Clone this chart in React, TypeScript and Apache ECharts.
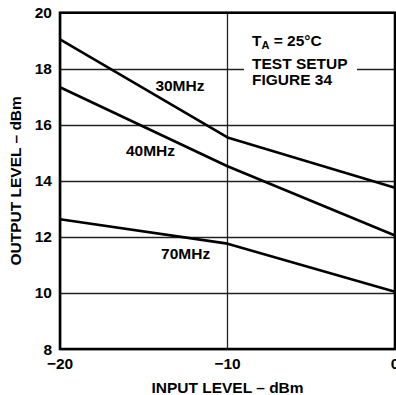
import React, { useEffect, useRef } from "react";
import * as echarts from "echarts";

const inputLevels = [-20, -10, 0];
const out30MHz = [19.05, 15.55, 13.75];
const out40MHz = [17.34, 14.52, 12.05];
const out70MHz = [12.63, 11.76, 10.04];
const seriesNames = ["30MHz", "40MHz", "70MHz"];
const labelCoords: [number, number][] = [
  [-12.84, 17.42],
  [-14.6, 15.1],
  [-12.5, 11.42],
];
const noteLines = ["TEST SETUP", "FIGURE 34"];

const FONT = '"Liberation Sans", Arial, Helvetica, sans-serif';
const FS = 15.5;

export default function App() {
  const ref = useRef<HTMLDivElement>(null);
  useEffect(() => {
    if (!ref.current) return;
    const chart = echarts.init(ref.current, undefined, { renderer: "svg" });
    const mk = (vals: number[], i: number) => ({
      type: "line",
      name: seriesNames[i],
      data: inputLevels.map((x, k) => [x, vals[k]]),
      showSymbol: false,
      symbol: "none",
      lineStyle: { color: "#000", width: 2.6 },
      z: 5,
      markPoint: {
        symbol: "circle",
        symbolSize: 0,
        silent: true,
        data: [{ coord: labelCoords[i] }],
        label: {
          show: true,
          position: "inside",
          formatter: seriesNames[i],
          color: "#000",
          fontFamily: FONT,
          fontWeight: "bold",
          fontSize: FS,
        },
      },
    });
    chart.setOption({
      animation: false,
      backgroundColor: "#fff",
      grid: {
        left: 60,
        right: 1,
        top: 12.7,
        bottom: 46,
        show: true,
        borderColor: "#000",
        borderWidth: 2.6,
        z: 10,
        containLabel: false,
        outerBoundsMode: "none",
      },
      xAxis: {
        type: "value",
        min: -20,
        max: 0,
        interval: 10,
        axisLine: { show: false },
        axisTick: { show: false },
        splitLine: { show: true, lineStyle: { color: "#222", width: 1.3 } },
        axisLabel: {
          margin: 6,
          color: "#000",
          fontFamily: FONT,
          fontWeight: "bold",
          fontSize: FS,
          verticalAlign: "top",
          formatter: (v: number) => (v < 0 ? "\u2212" + Math.abs(v) : String(v)),
        },
        name: "INPUT LEVEL \u2013 dBm",
        nameLocation: "middle",
        nameGap: 30,
        nameTextStyle: {
          color: "#000",
          fontFamily: FONT,
          fontWeight: "bold",
          fontSize: FS,
          verticalAlign: "top",
        },
      },
      yAxis: {
        type: "value",
        min: 8,
        max: 20,
        interval: 2,
        axisLine: { show: false },
        axisTick: { show: false },
        splitLine: { show: true, lineStyle: { color: "#222", width: 1.3 } },
        axisLabel: {
          margin: 8,
          color: "#000",
          fontFamily: FONT,
          fontWeight: "bold",
          fontSize: FS,
          padding: [3, 0, 0, 0],
        },
        name: "OUTPUT LEVEL \u2013 dBm",
        nameLocation: "middle",
        nameGap: 34,
        nameTextStyle: {
          color: "#000",
          fontFamily: FONT,
          fontWeight: "bold",
          fontSize: FS,
        },
      },
      graphic: [
        {
          type: "rect",
          z: 50,
          shape: { x: 244, y: 30, width: 113, height: 60 },
          style: { fill: "#fff" },
        },
        {
          type: "text",
          z: 51,
          x: 252,
          y: 40,
          style: {
            text: "{a|T}{s|A}{a| = 25\u00b0C}",
            fill: "#000",
            font: `bold ${FS}px ${FONT}`,
            verticalAlign: "middle",
            rich: {
              a: { fontFamily: FONT, fontWeight: "bold", fontSize: FS, fill: "#000" },
              s: {
                fontFamily: FONT,
                fontWeight: "bold",
                fontSize: 11,
                fill: "#000",
                padding: [9, 0, 0, 0],
              },
            },
          },
        },
        ...noteLines.map((t, i) => ({
          type: "text",
          z: 51,
          x: 252,
          y: 63 + i * 16,
          style: {
            text: t,
            fill: "#000",
            font: `bold ${FS}px ${FONT}`,
            verticalAlign: "middle",
          },
        })),
      ],
      series: [mk(out30MHz, 0), mk(out40MHz, 1), mk(out70MHz, 2)],
    });
    return () => chart.dispose();
  }, []);
  return (
    <div
      ref={ref}
      style={{ position: "fixed", left: 0, top: 0, width: 396, height: 395 }}
    />
  );
}
